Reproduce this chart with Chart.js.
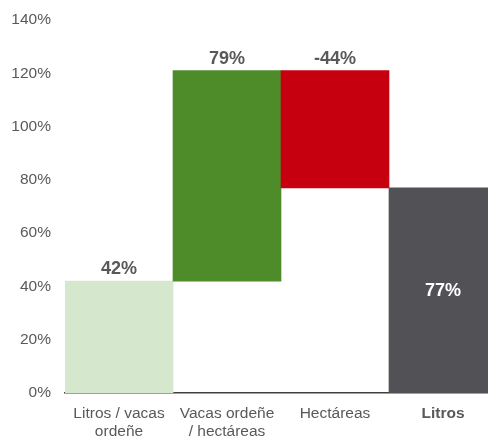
<!DOCTYPE html>
<html>
<head>
<meta charset="utf-8">
<script src="https://cdn.jsdelivr.net/npm/chart.js@4"></script>
<style>
  html, body { margin: 0; padding: 0; background: #fff; overflow: hidden; }
  #wrap { width: 497px; height: 436px; }
</style>
</head>
<body>
<div id="wrap"><canvas id="waterfall"></canvas></div>
<script>
var categories = [['Litros / vacas', 'ordeñe'], ['Vacas ordeñe', '/ hectáreas'], 'Hectáreas', 'Litros'];
var changes = [42, 79, -44, 77];
var isTotal = [false, false, false, true];
var barColors = ['#d5e7cc', '#4e8c2a', '#c6000f', '#525156'];
var yTicks = [0, 20, 40, 60, 80, 100, 120, 140];

// floating ranges for the waterfall steps
var ranges = [];
var running = 0;
for (var i = 0; i < changes.length; i++) {
    if (isTotal[i]) {
        ranges.push([0, changes[i]]);
        running = changes[i];
    } else {
        ranges.push([running, running + changes[i]]);
        running += changes[i];
    }
}

var valueLabels = {
    id: 'valueLabels',
    afterDatasetsDraw: function (chart) {
        var ctx = chart.ctx;
        var meta = chart.getDatasetMeta(0);
        ctx.save();
        ctx.font = 'bold 18px "Liberation Sans", Arial, sans-serif';
        ctx.textAlign = 'center';
        meta.data.forEach(function (bar, i) {
            var text = changes[i] + '%';
            var props = bar.getProps(['x', 'y', 'base'], true);
            var top = Math.min(props.y, props.base);
            var bottom = Math.max(props.y, props.base);
            if (isTotal[i]) {
                ctx.fillStyle = '#ffffff';
                ctx.textBaseline = 'middle';
                ctx.fillText(text, props.x, (top + bottom) / 2 + 1);
            } else {
                ctx.fillStyle = '#595959';
                ctx.textBaseline = 'alphabetic';
                ctx.fillText(text, props.x, top - 7);
            }
        });
        ctx.restore();
    }
};

var ctx = document.getElementById('waterfall').getContext('2d');
var chart = new Chart(ctx, {
    type: 'bar',
    data: {
        labels: categories,
        datasets: [{
            data: ranges,
            backgroundColor: barColors,
            borderWidth: 0,
            barPercentage: 1,
            categoryPercentage: 1
        }]
    },
    options: {
        responsive: true,
        maintainAspectRatio: false,
        animation: false,
        layout: { padding: { top: 20, right: 0, bottom: 0, left: 0 } },
        plugins: {
            legend: { display: false },
            tooltip: { enabled: false }
        },
        scales: {
            x: {
                grid: { display: false, drawTicks: false },
                border: { display: true, color: '#404040', width: 1.5 },
                ticks: {
                    color: '#595959',
                    padding: 11,
                    maxRotation: 0,
                    autoSkip: false,
                    font: function (c) {
                        return {
                            family: '"Liberation Sans", Arial, sans-serif',
                            size: 15.5,
                            lineHeight: 1.2,
                            weight: c.index === 3 ? 'bold' : 'normal'
                        };
                    }
                },
                afterFit: function (scale) { scale.height = 43; }
            },
            y: {
                min: 0,
                max: 140,
                grid: { display: false, drawTicks: false },
                border: { display: false },
                afterBuildTicks: function (scale) {
                    scale.ticks = yTicks.map(function (v) { return { value: v }; });
                },
                ticks: {
                    color: '#595959',
                    padding: 14,
                    font: { family: '"Liberation Sans", Arial, sans-serif', size: 15.5 },
                    callback: function (v) { return v + '%'; }
                },
                afterFit: function (scale) {
                    scale.width = 65;
                    scale.paddingTop = 0;
                    scale.paddingBottom = 0;
                }
            }
        }
    },
    plugins: [valueLabels]
});
</script>
</body>
</html>
